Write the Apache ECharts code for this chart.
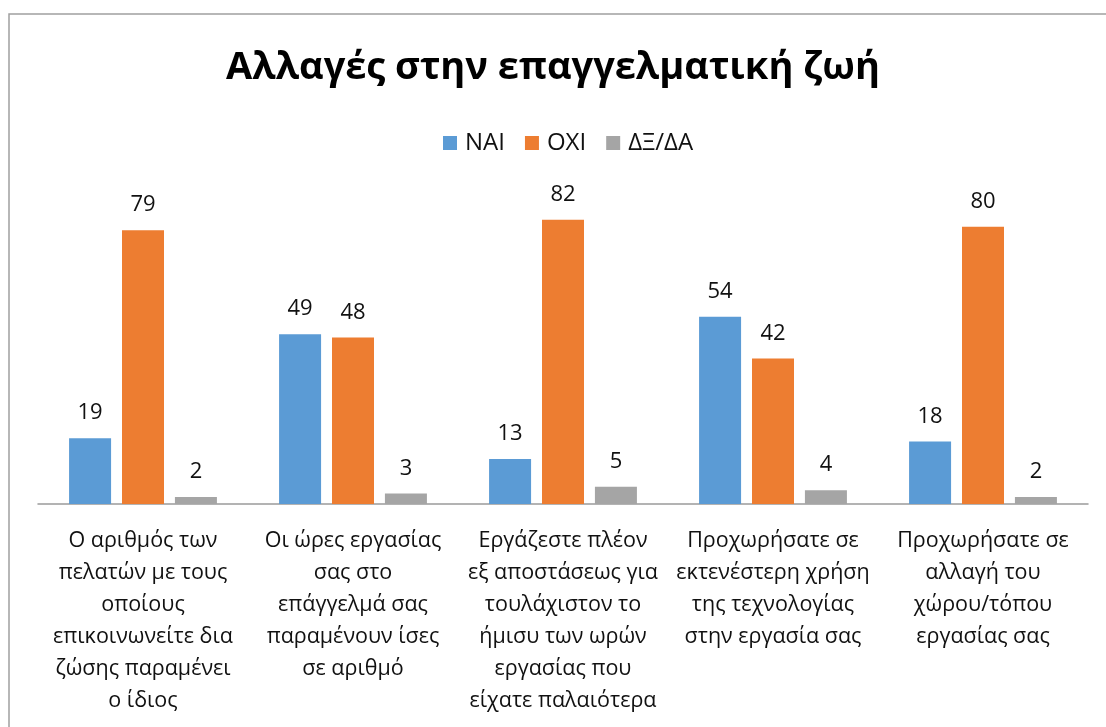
<!DOCTYPE html>
<html>
<head>
<meta charset="utf-8">
<script src="https://cdn.jsdelivr.net/npm/echarts@6/dist/echarts.min.js"></script>
<style>
  html, body { margin: 0; padding: 0; background: #fff; }
  #main { width: 1106px; height: 727px; }
</style>
</head>
<body>
<div id="main"></div>
<script>
// κατηγορίες (με τις αλλαγές γραμμής όπως στο πρωτότυπο)
const categories = [
  'Ο αριθμός των\nπελατών με τους\nοποίους\nεπικοινωνείτε δια\nζώσης παραμένει\nο ίδιος',
  'Οι ώρες εργασίας\nσας στο\nεπάγγελμά σας\nπαραμένουν ίσες\nσε αριθμό',
  'Εργάζεστε πλέον\nεξ αποστάσεως για\nτουλάχιστον το\nήμισυ των ωρών\nεργασίας που\nείχατε παλαιότερα',
  'Προχωρήσατε σε\nεκτενέστερη χρήση\nτης τεχνολογίας\nστην εργασία σας',
  'Προχωρήσατε σε\nαλλαγή του\nχώρου/τόπου\nεργασίας σας'
]
const seriesNames = ['ΝΑΙ', 'ΟΧΙ', 'ΔΞ/ΔΑ']
const yesValues = [19, 49, 13, 54, 18]
const noValues = [79, 48, 82, 42, 80]
const dkValues = [2, 3, 5, 4, 2]
const colors = ['#5B9BD5', '#ED7D31', '#A5A5A5']

const fontFamily = '"Open Sans", "Noto Sans", sans-serif'

const myChart = echarts.init(document.getElementById('main'))

function makeSeries(name, data, color) {
  return {
    name: name,
    type: 'bar',
    data: data,
    barWidth: 42,
    barGap: '26%',
    itemStyle: { color: color },
    label: {
      show: true,
      position: 'top',
      distance: 14,
      color: '#111',
      fontSize: 22,
      fontFamily: fontFamily
    }
  }
}

myChart.setOption({
  animation: false,
  color: colors,
  title: {
    text: 'Αλλαγές στην επαγγελματική ζωή',
    left: 'center',
    top: 44,
    textStyle: {
      fontSize: 38,
      fontWeight: 'bold',
      color: '#000',
      fontFamily: fontFamily
    }
  },
  legend: {
    data: seriesNames,
    top: 126,
    left: 438,
    itemWidth: 14,
    itemHeight: 14,
    itemGap: 20,
    icon: 'rect',
    textStyle: { fontSize: 24, color: '#111', fontFamily: fontFamily, padding: [0, 0, 0, 3] }
  },
  grid: { left: 38, right: 18, top: 192, bottom: 223 },
  xAxis: {
    type: 'category',
    data: categories,
    axisLine: { lineStyle: { color: '#9a9a9a', width: 1.5 } },
    axisTick: { show: false },
    axisLabel: {
      interval: 0,
      margin: 21,
      fontSize: 21.5,
      lineHeight: 32,
      color: '#111',
      fontFamily: fontFamily
    }
  },
  yAxis: {
    type: 'value',
    min: 0,
    max: 90,
    show: false
  },
  graphic: [{
    type: 'rect',
    shape: { x: 9, y: 14, width: 1200, height: 900 },
    style: { fill: 'none', stroke: '#a0a0a0', lineWidth: 1.5 },
    silent: true
  }],
  series: [
    makeSeries(seriesNames[0], yesValues, colors[0]),
    makeSeries(seriesNames[1], noValues, colors[1]),
    makeSeries(seriesNames[2], dkValues, colors[2])
  ]
})
</script>
</body>
</html>
